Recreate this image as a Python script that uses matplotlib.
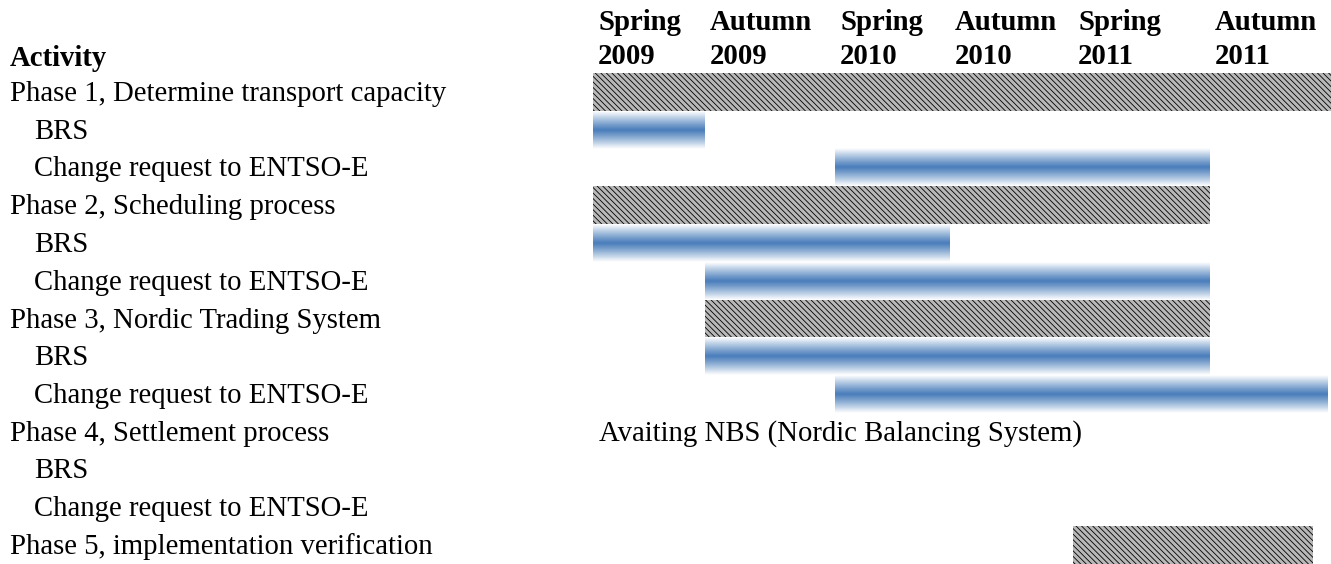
import matplotlib
matplotlib.use('Agg')
import matplotlib.pyplot as plt
from matplotlib.colors import LinearSegmentedColormap
import numpy as np

# === DATA ===
periods = ['Spring\n2009', 'Autumn\n2009', 'Spring\n2010', 'Autumn\n2010', 'Spring\n2011', 'Autumn\n2011']
activities = ['Phase 1, Determine transport capacity', 'BRS', 'Change request to ENTSO-E',
              'Phase 2, Scheduling process', 'BRS', 'Change request to ENTSO-E',
              'Phase 3, Nordic Trading System', 'BRS', 'Change request to ENTSO-E',
              'Phase 4, Settlement process', 'BRS', 'Change request to ENTSO-E',
              'Phase 5, implementation verification']
is_phase = [True, False, False, True, False, False, True, False, False, True, False, False, True]
# start / end in half-year periods (0 = Spring 2009), None = no bar
starts = [0, 0, 2, 0, 0, 1, 1, 1, 2, None, None, None, 4]
ends = [6, 1, 5, 5, 3, 5, 5, 5, 5.97, None, None, None, 5.85]
note_row = 9
note_text = 'Avaiting NBS (Nordic Balancing System)'

# === LAYOUT (pixel space) ===
W, H = 1331, 564
col_edges = [593, 705, 835, 950, 1073, 1210, 1331]
row0, pitch = 92, 37.75

plt.rcParams['hatch.linewidth'] = 0.6

fig = plt.figure(figsize=(W / 100, H / 100), dpi=100)
ax = fig.add_axes([0, 0, 1, 1])
ax.set_xlim(0, W)
ax.set_ylim(H, 0)
ax.axis('off')

font = ['Liberation Serif', 'DejaVu Serif']
fs = 20.7

def to_x(p):
    return np.interp(p, np.arange(len(col_edges)), col_edges)

grad_cmap = LinearSegmentedColormap.from_list('g', ['#ffffff', '#4a7ebb'])
grad = 1 - np.abs(np.linspace(-1, 1, 80)) ** 1.1
grad = grad.reshape(-1, 1)

# header
ax.text(10, 58, 'Activity', fontsize=fs, fontweight='bold', family=font, va='center')
for i, p in enumerate(periods):
    top, bottom = p.split('\n')
    ax.text(col_edges[i] + 5, 22, top, fontsize=fs, fontweight='bold', family=font, va='center')
    ax.text(col_edges[i] + 5, 57, bottom, fontsize=fs, fontweight='bold', family=font, va='center')

# rows
for i, name in enumerate(activities):
    y = row0 + i * pitch
    x_txt = 10 if is_phase[i] else 34
    ax.text(x_txt, y + 2, name, fontsize=fs, family=font, va='center')
    if starts[i] is None:
        continue
    x0, x1 = to_x(starts[i]), to_x(ends[i])
    if is_phase[i]:
        ax.barh(y, x1 - x0, left=x0, height=pitch, facecolor='#b8b8b8',
                edgecolor='black', linewidth=0, hatch='\\\\\\\\\\\\')
    else:
        ax.imshow(grad, cmap=grad_cmap, aspect='auto', vmin=0, vmax=1,
                  extent=(x0, x1, y + pitch / 2, y - pitch / 2), interpolation='bilinear')

ax.text(col_edges[0] + 6, row0 + note_row * pitch + 2, note_text, fontsize=fs,
        family=font, va='center')

ax.set_xlim(0, W)
ax.set_ylim(H, 0)
fig.savefig('out.png', dpi=100, facecolor='white')
